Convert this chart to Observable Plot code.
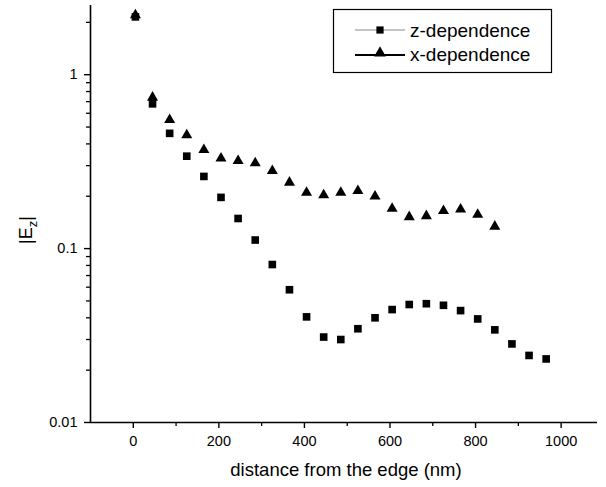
<!DOCTYPE html>
<html>
<head>
<meta charset="utf-8">
<script src="https://cdn.jsdelivr.net/npm/d3@7"></script>
<script src="https://cdn.jsdelivr.net/npm/@observablehq/plot@0.6"></script>
<style>
  html, body { margin: 0; padding: 0; background: #fff; }
  #chart { position: relative; width: 606px; height: 487px; }
  svg { font-family: "Liberation Sans", Arial, sans-serif; }
</style>
</head>
<body>
<div id="chart"></div>
<script>
// distances (nm)
const zDistance = [5, 45, 85, 125, 165, 205, 245, 285, 325, 365, 405, 445, 485, 525, 565, 605, 645, 685, 725, 765, 805, 845, 885, 925, 965];
const zValues   = [2.15, 0.68, 0.46, 0.34, 0.26, 0.197, 0.149, 0.112, 0.081, 0.058, 0.0405, 0.031, 0.030, 0.0346, 0.040, 0.0446, 0.0477, 0.0482, 0.0472, 0.044, 0.0394, 0.0341, 0.0283, 0.0243, 0.0232];
const xDistance = [5, 45, 85, 125, 165, 205, 245, 285, 325, 365, 405, 445, 485, 525, 565, 605, 645, 685, 725, 765, 805, 845];
const xValues   = [2.2, 0.74, 0.55, 0.45, 0.37, 0.33, 0.32, 0.31, 0.28, 0.24, 0.21, 0.203, 0.21, 0.215, 0.2, 0.17, 0.152, 0.154, 0.165, 0.168, 0.157, 0.134];
const xMajorTicks = [0, 200, 400, 600, 800, 1000];
const xMinorTicks = [100, 300, 500, 700, 900];
const yMajorTicks = [0.01, 0.1, 1];
const yMinorTicks = [0.02,0.03,0.04,0.05,0.06,0.07,0.08,0.09,0.2,0.3,0.4,0.5,0.6,0.7,0.8,0.9,2];
const seriesNames = ["z-dependence", "x-dependence"];

const zData = zDistance.map((d, i) => ({d, v: zValues[i]}));
const xData = xDistance.map((d, i) => ({d, v: xValues[i]}));

const fmt = v => v === 1 ? "1" : String(v);

const plot = Plot.plot({
  width: 606,
  height: 487,
  marginLeft: 90,
  marginRight: 9,
  marginTop: 5,
  marginBottom: 65,
  style: {fontFamily: "Liberation Sans, Arial, sans-serif", fontSize: "14px", color: "black", background: "white"},
  x: {domain: [-100, 1085], label: null},
  y: {type: "log", domain: [0.01, 2.5], label: null},
  marks: [
    Plot.axisX({ticks: xMajorTicks, tickSize: 6, tickPadding: 7, tickFormat: d => String(d), fontSize: 14.5, stroke: "black", strokeWidth: 1.4}),
    Plot.axisX({ticks: xMinorTicks, tickSize: 4, tickFormat: () => "", stroke: "black", strokeWidth: 1.3}),
    Plot.axisY({ticks: yMajorTicks, tickSize: 6, tickPadding: 7, tickFormat: fmt, fontSize: 14.5, stroke: "black", strokeWidth: 1.4}),
    Plot.axisY({ticks: yMinorTicks, tickSize: 4, tickFormat: () => "", stroke: "black", strokeWidth: 1.3}),
    Plot.ruleY([0.01], {stroke: "black", strokeWidth: 1.6}),
    Plot.ruleX([-100], {stroke: "black", strokeWidth: 1.6}),
    Plot.dot(zData, {x: "d", y: "v", symbol: "square", r: 4.3, fill: "black", stroke: "none"}),
    Plot.dot(xData, {x: "d", y: "v", symbol: "triangle", r: 4.1, fill: "black", stroke: "none"})
  ]
});

document.getElementById("chart").appendChild(plot);

const svg = d3.select(plot);

// y-axis label |E_z|
const yl = svg.append("text")
  .attr("transform", "translate(32,230) rotate(-90)")
  .attr("text-anchor", "middle")
  .attr("font-size", 18)
  .attr("fill", "black");
yl.append("tspan").text("|E");
yl.append("tspan").attr("font-size", 13).attr("dy", 5).text("z");
yl.append("tspan").attr("dy", -5).text("|");

// x-axis label
svg.append("text")
  .attr("x", 346).attr("y", 476)
  .attr("text-anchor", "middle")
  .attr("font-size", 18.5)
  .attr("fill", "black")
  .text("distance from the edge (nm)");

// legend
const lg = svg.append("g").attr("text-anchor", "start");
lg.append("rect").attr("x", 333.5).attr("y", 9.5).attr("width", 218).attr("height", 63)
  .attr("fill", "white").attr("stroke", "black").attr("stroke-width", 1.2);
// z entry
lg.append("line").attr("x1", 355).attr("x2", 405).attr("y1", 30).attr("y2", 30)
  .attr("stroke", "#888").attr("stroke-width", 1);
lg.append("path").attr("d", d3.symbol(d3.symbolSquare, 52)())
  .attr("transform", "translate(380,30)").attr("fill", "black");
lg.append("text").attr("x", 410).attr("y", 36.5).attr("font-size", 19).attr("fill", "black").text(seriesNames[0]);
// x entry
lg.append("line").attr("x1", 355).attr("x2", 405).attr("y1", 55).attr("y2", 55)
  .attr("stroke", "black").attr("stroke-width", 2.2);
lg.append("path").attr("d", d3.symbol(d3.symbolTriangle, 60)())
  .attr("transform", "translate(380,53)").attr("fill", "black");
lg.append("text").attr("x", 410).attr("y", 61).attr("font-size", 19).attr("fill", "black").text(seriesNames[1]);
</script>
</body>
</html>
